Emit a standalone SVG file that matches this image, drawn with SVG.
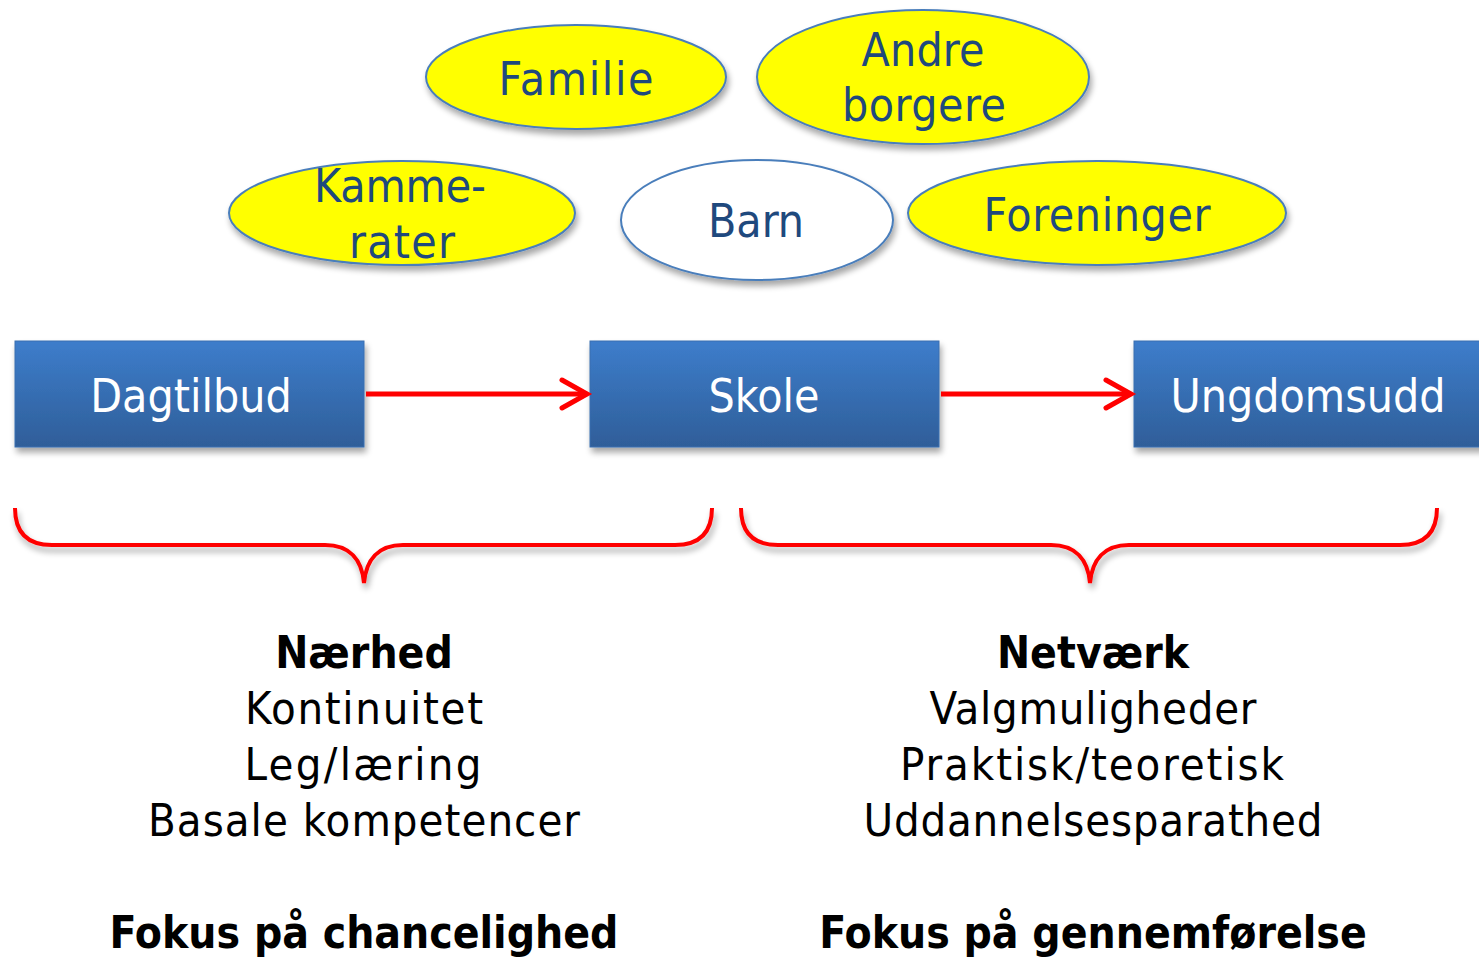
<svg xmlns="http://www.w3.org/2000/svg" width="1479" height="959" viewBox="0 0 1479 959">
<defs>
<linearGradient id="bg" x1="0" y1="0" x2="0" y2="1">
<stop offset="0" stop-color="#3d7dcb"/>
<stop offset="1" stop-color="#2f5e99"/>
</linearGradient>
<filter id="sh" x="-10%" y="-10%" width="130%" height="140%">
<feGaussianBlur in="SourceAlpha" stdDeviation="3"/>
<feOffset dx="2" dy="5" result="b"/>
<feComponentTransfer><feFuncA type="linear" slope="0.35"/></feComponentTransfer>
<feMerge><feMergeNode/><feMergeNode in="SourceGraphic"/></feMerge>
</filter>
<marker id="ah" viewBox="0 0 32 34" refX="29" refY="17" markerWidth="32" markerHeight="34" markerUnits="userSpaceOnUse" orient="auto" overflow="visible">
<path d="M4,3 L29,17 L4,31" fill="none" stroke="#ff0000" stroke-width="5" stroke-linecap="round" stroke-linejoin="miter"/>
</marker>
</defs>
<style>
.ell{fill:#ffff00;stroke:#4a7ebb;stroke-width:2;filter:url(#sh)}
.ellw{fill:#ffffff;stroke:#4a7ebb;stroke-width:2;filter:url(#sh)}
.et{font-family:"DejaVu Sans Condensed","DejaVu Sans",sans-serif;font-size:46px;fill:#1f497d;text-anchor:middle}
.box{fill:url(#bg);stroke:#3a6fb0;stroke-width:1;filter:url(#sh)}
.bt{font-family:"DejaVu Sans Condensed","DejaVu Sans",sans-serif;font-size:46px;fill:#ffffff;text-anchor:middle}
.con{stroke:#ff0000;stroke-width:5;fill:none}
.br{stroke:#ff0000;stroke-width:4;fill:none;filter:url(#sh)}
.t{font-family:"DejaVu Sans Condensed","DejaVu Sans",sans-serif;font-size:45px;fill:#000000;text-anchor:middle}
.tb{font-weight:bold;font-size:44px}
</style>
<g id="familie"><ellipse class="ell" cx="576" cy="77" rx="150" ry="52"/><text class="et" x="576" y="95" textLength="155" lengthAdjust="spacing">Familie</text></g>
<g id="andre"><ellipse class="ell" cx="923" cy="77" rx="166" ry="67"/><text class="et" x="923" y="66" textLength="123" lengthAdjust="spacing">Andre</text><text class="et" x="924" y="121" textLength="164" lengthAdjust="spacing">borgere</text></g>
<g id="kammerater"><ellipse class="ell" cx="402" cy="213" rx="173" ry="52"/><text class="et" x="400" y="202" textLength="172" lengthAdjust="spacing">Kamme-</text><text class="et" x="402" y="258" textLength="106" lengthAdjust="spacing">rater</text></g>
<g id="barn"><ellipse class="ellw" cx="757" cy="220" rx="136" ry="60"/><text class="et" x="756" y="237">Barn</text></g>
<g id="foreninger"><ellipse class="ell" cx="1097" cy="213" rx="189" ry="52"/><text class="et" x="1097" y="231" textLength="227" lengthAdjust="spacing">Foreninger</text></g>
<g id="dagtilbud"><rect class="box" x="15" y="341" width="349" height="106"/><text class="bt" x="191" y="412">Dagtilbud</text></g>
<g id="skole"><rect class="box" x="590" y="341" width="349" height="106"/><text class="bt" x="764" y="412">Skole</text></g>
<g id="ungdomsudd"><rect class="box" x="1134" y="341" width="360" height="106"/><text class="bt" x="1308" y="412">Ungdomsudd</text></g>
<g id="connectors">
<line class="con" x1="366" y1="394" x2="587" y2="394" marker-end="url(#ah)"/>
<line class="con" x1="941" y1="394" x2="1131" y2="394" marker-end="url(#ah)"/>
<path class="br" d="M15,508 C15,530 25,545 52,545 L325,545 C350,545 362,560 364,583 C366,560 378,545 403,545 L675,545 C702,545 712,530 712,508"/>
<path class="br" d="M741,508 C741,530 751,545 778,545 L1051,545 C1076,545 1088,560 1090,583 C1092,560 1104,545 1129,545 L1400,545 C1427,545 1437,530 1437,508"/>
</g>
<g id="left-text">
<text class="t tb" x="364" y="668">Nærhed</text>
<text class="t" x="364" y="724" textLength="238" lengthAdjust="spacing">Kontinuitet</text>
<text class="t" x="363" y="780" textLength="237" lengthAdjust="spacing">Leg/læring</text>
<text class="t" x="364" y="836" textLength="432" lengthAdjust="spacing">Basale kompetencer</text>
<text class="t tb" x="364" y="948">Fokus på chancelighed</text>
</g>
<g id="right-text">
<text class="t tb" x="1093" y="668">Netværk</text>
<text class="t" x="1093" y="724" textLength="327" lengthAdjust="spacing">Valgmuligheder</text>
<text class="t" x="1092" y="780" textLength="384" lengthAdjust="spacing">Praktisk/teoretisk</text>
<text class="t" x="1093" y="836" textLength="459" lengthAdjust="spacing">Uddannelsesparathed</text>
<text class="t tb" x="1093" y="948">Fokus på gennemførelse</text>
</g>
</svg>
